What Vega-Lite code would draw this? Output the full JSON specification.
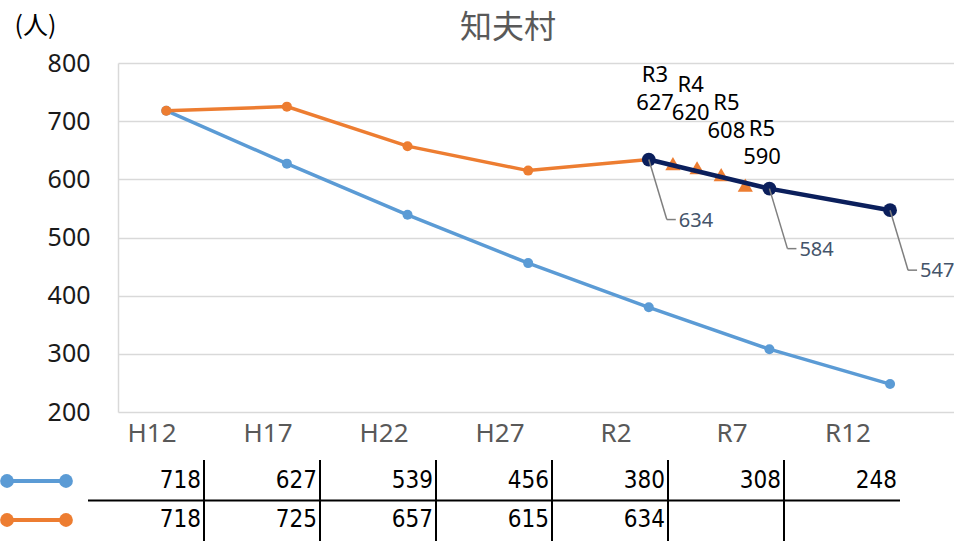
{
  "$schema": "https://vega.github.io/schema/vega-lite/v6.json",
  "autosize": {"type": "none"},
  "width": 836,
  "height": 349,
  "padding": {"left": 118, "top": 63, "right": 0, "bottom": 129},
  "background": "white",
  "config": {"view": {"stroke": null}, "font": "Noto Sans"},
  "title": {"text": "知夫村", "font": "Noto Sans CJK JP", "fontSize": 32, "fontWeight": "normal", "color": "#595959", "anchor": "middle", "dx": -28, "offset": 16, "dy": 48},
  "datasets": {
    "est": [
      {"year": 2000, "period": "H12", "series": "推計", "value": 718},
      {"year": 2005, "period": "H17", "series": "推計", "value": 627},
      {"year": 2010, "period": "H22", "series": "推計", "value": 539},
      {"year": 2015, "period": "H27", "series": "推計", "value": 456},
      {"year": 2020, "period": "R2", "series": "推計", "value": 380},
      {"year": 2025, "period": "R7", "series": "推計", "value": 308},
      {"year": 2030, "period": "R12", "series": "推計", "value": 248}
    ],
    "actual": [
      {"year": 2000, "period": "H12", "series": "実績", "value": 718},
      {"year": 2005, "period": "H17", "series": "実績", "value": 725},
      {"year": 2010, "period": "H22", "series": "実績", "value": 657},
      {"year": 2015, "period": "H27", "series": "実績", "value": 615},
      {"year": 2020, "period": "R2", "series": "実績", "value": 634}
    ],
    "recent": [
      {"year": 2021, "period": "R3", "value": 627},
      {"year": 2022, "period": "R4", "value": 620},
      {"year": 2023, "period": "R5", "value": 608},
      {"year": 2024, "period": "R5", "value": 590}
    ],
    "target": [
      {"year": 2020, "period": "R2", "value": 634},
      {"year": 2025, "period": "R7", "value": 584},
      {"year": 2030, "period": "R12", "value": 547}
    ],
    "legend": [
      {"series": "推計", "row": 1},
      {"series": "実績", "row": 2}
    ]
  },
  "resolve": {"scale": {"x": "independent", "y": "independent"}},
  "layer": [
    {
      "layer": [
        {
          "data": {"name": "est"},
          "mark": {"type": "line", "color": "#5B9BD5", "strokeWidth": 3.5},
          "encoding": {
            "x": {"field": "year", "type": "quantitative", "scale": {"domain": [1998, 2032.65], "nice": false, "zero": false}, "axis": null},
            "y": {"field": "value", "type": "quantitative", "scale": {"domain": [200, 800], "nice": false, "zero": false},
              "axis": {"values": [200, 300, 400, 500, 600, 700, 800], "title": "(人)", "titleAngle": 0, "titleX": -104, "titleY": -38, "titleAlign": "left", "titleBaseline": "middle", "titleFont": "Noto Sans CJK JP", "titleFontSize": 25, "titleFontWeight": "normal", "titleColor": "#000000",
                "labelFont": "Noto Sans", "labelFontSize": 25, "labelColor": "#1a1a1a", "labelPadding": 28, "ticks": false, "tickSize": 0,
                "domain": true, "domainColor": "#d9d9d9", "domainWidth": 1.5, "grid": true, "gridColor": "#d9d9d9", "gridWidth": 1.5}}
          }
        },
        {
          "data": {"name": "est"},
          "mark": {"type": "circle", "color": "#5B9BD5", "size": 100, "opacity": 1},
          "encoding": {"x": {"field": "year", "type": "quantitative"}, "y": {"field": "value", "type": "quantitative"}}
        },
        {
          "data": {"name": "actual"},
          "mark": {"type": "line", "color": "#ED7D31", "strokeWidth": 3.5},
          "encoding": {"x": {"field": "year", "type": "quantitative"}, "y": {"field": "value", "type": "quantitative"}}
        },
        {
          "data": {"name": "actual"},
          "mark": {"type": "circle", "color": "#ED7D31", "size": 100, "opacity": 1},
          "encoding": {"x": {"field": "year", "type": "quantitative"}, "y": {"field": "value", "type": "quantitative"}}
        },
        {
          "data": {"name": "recent"},
          "mark": {"type": "point", "shape": "triangle-up", "filled": true, "color": "#ED7D31", "size": 230, "opacity": 1},
          "encoding": {"x": {"field": "year", "type": "quantitative"}, "y": {"field": "value", "type": "quantitative"}}
        },
        {
          "data": {"name": "target"},
          "mark": {"type": "line", "color": "#0B1F5C", "strokeWidth": 4.5},
          "encoding": {"x": {"field": "year", "type": "quantitative"}, "y": {"field": "value", "type": "quantitative"}}
        },
        {
          "data": {"name": "target"},
          "mark": {"type": "circle", "color": "#0B1F5C", "size": 190, "opacity": 1},
          "encoding": {"x": {"field": "year", "type": "quantitative"}, "y": {"field": "value", "type": "quantitative"}}
        },
        {
          "data": {"name": "target"},
          "mark": {"type": "rule", "color": "#7f7f7f", "strokeWidth": 1.5, "x2Offset": 18, "y2Offset": 60},
          "encoding": {"x": {"field": "year", "type": "quantitative"}, "x2": {"field": "year"}, "y": {"field": "value", "type": "quantitative"}, "y2": {"field": "value"}}
        },
        {
          "data": {"name": "target"},
          "mark": {"type": "rule", "color": "#7f7f7f", "strokeWidth": 1.5, "xOffset": 18, "x2Offset": 27, "yOffset": 60, "y2Offset": 60},
          "encoding": {"x": {"field": "year", "type": "quantitative"}, "x2": {"field": "year"}, "y": {"field": "value", "type": "quantitative"}, "y2": {"field": "value"}}
        },
        {
          "data": {"name": "target"},
          "mark": {"type": "text", "color": "#44546A", "font": "Noto Sans", "fontSize": 20, "align": "left", "baseline": "middle", "dx": 30, "dy": 61},
          "encoding": {"x": {"field": "year", "type": "quantitative"}, "y": {"field": "value", "type": "quantitative"}, "text": {"field": "value", "type": "quantitative"}}
        }
      ]
    },
    {
      "layer": [
        {
          "data": {"name": "recent"},
          "mark": {"type": "text", "color": "#000000", "font": "Noto Sans", "fontSize": 22, "align": "center", "baseline": "middle"},
          "encoding": {
            "x": {"field": "year", "type": "quantitative", "scale": {"domain": [2021, 2024], "range": [537, 644], "nice": false, "zero": false}, "axis": null},
            "y": {"field": "value", "type": "quantitative", "scale": {"domain": [590, 627], "range": [94, 40], "nice": false, "zero": false}, "axis": null},
            "text": {"field": "value", "type": "quantitative"}
          }
        },
        {
          "data": {"name": "recent"},
          "mark": {"type": "text", "color": "#000000", "font": "Noto Sans", "fontSize": 22, "align": "center", "baseline": "middle", "dy": -28},
          "encoding": {
            "x": {"field": "year", "type": "quantitative"},
            "y": {"field": "value", "type": "quantitative"},
            "text": {"field": "period", "type": "nominal"}
          }
        }
      ]
    },
    {
      "layer": [
        {
          "data": {"name": "est"},
          "mark": {"type": "rect", "color": "#000000"},
          "encoding": {
            "x": {"field": "period", "type": "ordinal", "scale": {"type": "band", "domain": ["H12", "H17", "H22", "H27", "R2", "R7", "R12"], "range": [-30, 782], "paddingInner": 0, "paddingOuter": 0},
              "axis": {"orient": "bottom", "title": null, "domain": false, "ticks": false, "grid": false, "labelAngle": 0, "labelFont": "Noto Sans", "labelFontSize": 26, "labelColor": "#595959", "labelPadding": 8, "labelOffset": 6}},
            "y": {"datum": 1.475, "type": "quantitative", "scale": {"domain": [1, 2], "range": [418, 457], "nice": false, "zero": false}, "axis": null},
            "y2": {"datum": 1.525}
          }
        },
        {
          "data": {"name": "est"},
          "transform": [{"filter": "datum.period !== 'R12'"}],
          "mark": {"type": "rule", "color": "#000000", "strokeWidth": 2},
          "encoding": {
            "x": {"field": "period", "type": "ordinal", "bandPosition": 1},
            "y": {"datum": 0.46, "type": "quantitative"},
            "y2": {"datum": 2.54}
          }
        },
        {
          "data": {"name": "est"},
          "mark": {"type": "text", "color": "#000000", "font": "'Liberation Sans Narrow', 'DejaVu Sans Condensed', 'Roboto Condensed', 'Noto Sans', sans-serif", "fontSize": 24, "align": "right", "baseline": "middle", "dx": -3},
          "encoding": {
            "x": {"field": "period", "type": "ordinal", "bandPosition": 1},
            "y": {"datum": 1, "type": "quantitative"},
            "text": {"field": "value", "type": "quantitative"}
          }
        },
        {
          "data": {"name": "actual"},
          "mark": {"type": "text", "color": "#000000", "font": "'Liberation Sans Narrow', 'DejaVu Sans Condensed', 'Roboto Condensed', 'Noto Sans', sans-serif", "fontSize": 24, "align": "right", "baseline": "middle", "dx": -3},
          "encoding": {
            "x": {"field": "period", "type": "ordinal", "bandPosition": 1},
            "y": {"datum": 2, "type": "quantitative"},
            "text": {"field": "value", "type": "quantitative"}
          }
        },
        {
          "data": {"name": "legend"},
          "mark": {"type": "rule", "strokeWidth": 4, "xOffset": -81, "x2Offset": -80},
          "encoding": {
            "x": {"datum": "H12", "type": "ordinal", "bandPosition": 0},
            "x2": {"datum": "H12"},
            "y": {"field": "row", "type": "quantitative"},
            "color": {"field": "series", "type": "nominal", "scale": {"domain": ["推計", "実績"], "range": ["#5B9BD5", "#ED7D31"]}, "legend": null}
          }
        },
        {
          "data": {"name": "legend"},
          "mark": {"type": "circle", "size": 190, "opacity": 1, "xOffset": -81},
          "encoding": {
            "x": {"datum": "H12", "type": "ordinal", "bandPosition": 0},
            "y": {"field": "row", "type": "quantitative"},
            "color": {"field": "series", "type": "nominal", "legend": null}
          }
        },
        {
          "data": {"name": "legend"},
          "mark": {"type": "circle", "size": 190, "opacity": 1, "xOffset": -22},
          "encoding": {
            "x": {"datum": "H12", "type": "ordinal", "bandPosition": 0},
            "y": {"field": "row", "type": "quantitative"},
            "color": {"field": "series", "type": "nominal", "legend": null}
          }
        }
      ]
    }
  ]
}
